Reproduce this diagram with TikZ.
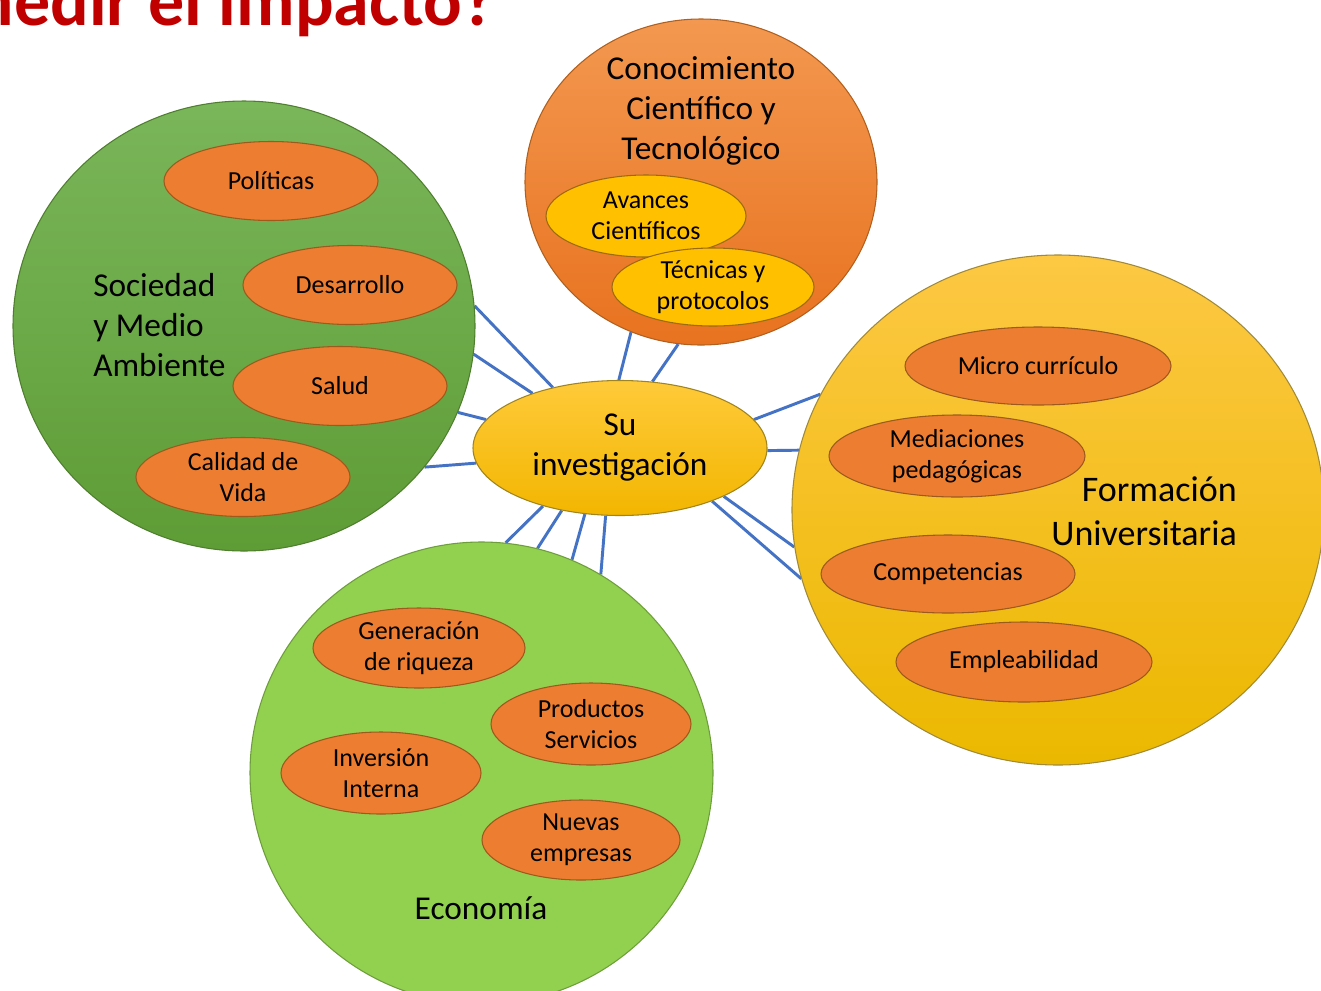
\documentclass[tikz,border=0pt]{standalone}
\usepackage{fontspec}
\setmainfont{Carlito}
\usetikzlibrary{shapes.geometric,backgrounds}
\definecolor{lineblue}{HTML}{4472C4}
\definecolor{socTop}{HTML}{7AB65A}
\definecolor{socBot}{HTML}{5E9C36}
\definecolor{socEdge}{HTML}{4F7F2E}
\definecolor{conTop}{HTML}{F39850}
\definecolor{conBot}{HTML}{E8721F}
\definecolor{conEdge}{HTML}{B0601E}
\definecolor{forTop}{HTML}{FDC843}
\definecolor{forBot}{HTML}{EBB800}
\definecolor{forEdge}{HTML}{A08A3A}
\definecolor{ecoFill}{HTML}{92D050}
\definecolor{ecoEdge}{HTML}{6E9E3A}
\definecolor{invTop}{HTML}{FFCA3A}
\definecolor{invBot}{HTML}{F2B600}
\definecolor{invEdge}{HTML}{A0841E}
\definecolor{subOrange}{HTML}{ED7D31}
\definecolor{subOrangeEdge}{HTML}{9C5A1C}
\definecolor{subYellow}{HTML}{FFC000}
\definecolor{subYellowEdge}{HTML}{9C6A10}
\definecolor{titleRed}{HTML}{C00000}
\tikzset{
  esize/.style 2 args={minimum width=#1*1.5pt, minimum height=#2*1.5pt},
  bigshape/.style={ellipse, inner sep=0pt, line width=0.8pt},
  subshape/.style={ellipse, inner sep=0pt, line width=0.8pt, draw=subOrangeEdge, fill=subOrange},
  subyel/.style={ellipse, inner sep=0pt, line width=0.8pt, draw=subYellowEdge, fill=subYellow},
  sublbl/.style={font=\fontsize{19.5}{23.5}\selectfont, align=center, text=black, inner sep=0pt},
  biglbl/.style={font=\fontsize{25}{30}\selectfont, text=black, inner sep=0pt},
  link/.style={draw=lineblue, line width=2.2pt}
}
\begin{document}
\begin{tikzpicture}[x=0.75pt,y=-0.75pt]
\useasboundingbox (0,0) rectangle (1321,990);
\clip (0,0) rectangle (1321,990);

% title (cut at top)
\node[anchor=base east, inner sep=0pt, text=titleRed, font=\bfseries\fontsize{54}{60}\selectfont] (title) at (496,25) {medir el impacto?};

% big circles
\node[bigshape, esize={231}{225}, top color=socTop, bottom color=socBot, draw=socEdge] (soc) at (244,326) {};
\node[bigshape, esize={176}{163}, top color=conTop, bottom color=conBot, draw=conEdge] (con) at (701,182) {};
\node[bigshape, esize={266}{255}, top color=forTop, bottom color=forBot, draw=forEdge] (for) at (1058,510) {};
\node[bigshape, esize={231.5}{231}, fill=ecoFill, draw=ecoEdge] (eco) at (481.5,773) {};
\node[bigshape, esize={147}{67.5}, top color=invTop, bottom color=invBot, draw=invEdge] (inv) at (620,448) {};

% big labels
\node[biglbl, align=left, anchor=west] (socl) at (93,325) {Sociedad\\y Medio\\Ambiente};
\node[biglbl, align=center] (conl) at (701,111) {Conocimiento\\Científico y\\Tecnológico};
\node[font=\fontsize{27}{33}\selectfont, text=black, inner sep=0pt, align=right, anchor=east] (forl) at (1237,511) {Formación\\Universitaria};
\node[biglbl] (ecol) at (481,908) {Economía};
\node[biglbl, align=center] (invl) at (620,448) {Su\\investigación};

% sub ellipses: Sociedad
\node[subshape, esize={107}{39.5}, label={[sublbl]center:Políticas}] (pol) at (271,181) {};
\node[subshape, esize={107}{39.5}, label={[sublbl]center:Desarrollo}] (des) at (350,285) {};
\node[subshape, esize={107}{39.5}, label={[sublbl]center:Salud}] (sal) at (340,386) {};
\node[subshape, esize={107}{39.5}, label={[sublbl]center:Calidad de\\Vida}] (cal) at (243,477) {};

% sub ellipses: Conocimiento
\node[subyel, esize={100}{41}, label={[sublbl]center:Avances\\Científicos}] (ava) at (646,216) {};
\node[subyel, esize={101}{39}, label={[sublbl]center:Técnicas y\\protocolos}] (tec) at (713,287) {};

% sub ellipses: Formación
\node[subshape, esize={133}{39}, label={[sublbl]center:Micro currículo}] (mic) at (1038,366) {};
\node[subshape, esize={128}{41}, label={[sublbl]center:Mediaciones\\pedagógicas}] (med) at (957,456) {};
\node[subshape, esize={127}{39}, label={[sublbl]center:Competencias}] (com) at (948,574) {};
\node[subshape, esize={128}{40}, label={[sublbl]center:Empleabilidad}] (emp) at (1024,662) {};

% sub ellipses: Economía
\node[subshape, esize={106}{40}, label={[sublbl]center:Generación\\de riqueza}] (gen) at (419,648) {};
\node[subshape, esize={100}{41}, label={[sublbl]center:Productos\\Servicios}] (pro) at (591,724) {};
\node[subshape, esize={100}{41}, label={[sublbl]center:Inversión\\Interna}] (inv2) at (381,773) {};
\node[subshape, esize={99}{40}, label={[sublbl]center:Nuevas\\empresas}] (nue) at (581,840) {};

% connectors
\begin{scope}[on background layer]
\fill[white] (0,0) rectangle (1321,990);
\draw[link] (inv.138.2) -- (soc.5.7);
\draw[link] (inv.148.7) -- (soc.-7.7);
\draw[link] (inv.168.5) -- (soc.-22.1);
\draw[link] (inv.186.2) -- (soc.-38.8);
\draw[link] (inv.91.4) -- (con.-115.3);
\draw[link] (inv.64.4) -- (con.-98.0);
\draw[link] (inv.12.1) -- (for.154.4);
\draw[link] (inv.-1.0) -- (for.167.4);
\draw[link] (inv.-25.4) -- (for.188.95);
\draw[link] (inv.-30.5) -- (for.195.9);
\draw[link] (inv.-143.3) -- (eco.84.9);
\draw[link] (inv.-133.2) -- (eco.76.3);
\draw[link] (inv.-118.2) -- (eco.67.5);
\draw[link] (inv.-102.1) -- (eco.59.3);
\end{scope}
\end{tikzpicture}
\end{document}
